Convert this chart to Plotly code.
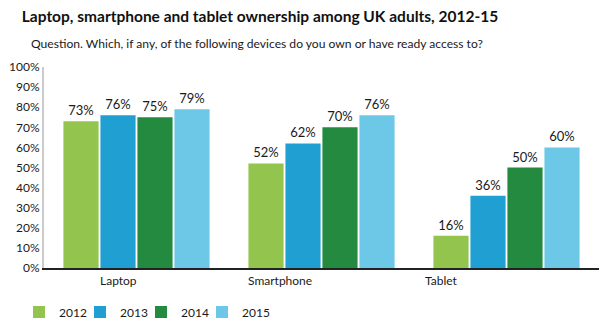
import plotly.graph_objects as go

# Device ownership by year (% of UK adults)
devices = ["Laptop", "Smartphone", "Tablet"]
years = ["2012", "2013", "2014", "2015"]
own_2012 = [73, 52, 16]
own_2013 = [76, 62, 36]
own_2014 = [75, 70, 50]
own_2015 = [79, 76, 60]

series = [own_2012, own_2013, own_2014, own_2015]
colors = ["#93C44E", "#209FD3", "#238A40", "#6CC8E6"]
label_shift = [-18, -42, -65]

FONT = "Lato"
TXT = "#1a1a1a"

fig = go.Figure()
for yr, vals, col in zip(years, series, colors):
    fig.add_trace(go.Bar(
        x=devices, y=vals, name=yr,
        marker=dict(color=col, line=dict(width=0)),
        text=[f"{v}%" for v in vals],
        textposition="outside",
        textfont=dict(family=FONT, size=13, color=TXT),
        cliponaxis=False,
    ))

# Blank, transparent legend entry so the last label keeps room for its text
fig.add_trace(go.Scatter(
    x=[devices[0]], y=[None], name="\u00a0", mode="markers",
    marker=dict(color="rgba(0,0,0,0)", size=1), hoverinfo="skip", showlegend=True,
))

# Category names drawn beneath the axis
for dev, dx in zip(devices, label_shift):
    fig.add_annotation(x=dev, y=0, yref="y", yshift=-12, xshift=dx,
                       text=dev, showarrow=False,
                       font=dict(family=FONT, size=12, color=TXT))

fig.update_layout(
    width=600, height=327,
    margin=dict(l=44, r=1, t=67, b=59),
    paper_bgcolor="white", plot_bgcolor="white",
    barmode="group", bargap=0.2, bargroupgap=0.05,
    font=dict(family=FONT, color=TXT),
    title=dict(
        text="<b>Laptop, smartphone and tablet ownership among UK adults, 2012-15</b>",
        x=260 / 600, xanchor="center", y=1 - 17 / 327, yanchor="middle",
        font=dict(family=FONT, size=15.5, color="#111"),
    ),
    legend=dict(
        orientation="h", xref="container", yref="container",
        x=19 / 600, y=1 - 312 / 327, xanchor="left", yanchor="middle",
        entrywidth=16, entrywidthmode="pixels",
        font=dict(family=FONT, size=12, color=TXT),
        itemclick=False, itemdoubleclick=False,
    ),
    showlegend=True,
)
fig.add_annotation(
    text="Question. Which, if any, of the following devices do you own or have ready access to?",
    xref="paper", yref="paper", x=(257 - 44) / 555, y=(268 - 43) / 201,
    xanchor="center", yanchor="middle", showarrow=False,
    font=dict(family=FONT, size=12.1, color=TXT),
)
fig.update_xaxes(showticklabels=False, showline=True, linecolor="#222", linewidth=1.5,
                 ticks="", showgrid=False, zeroline=False)
fig.update_yaxes(range=[0, 100], dtick=10, ticksuffix="%", showgrid=False, zeroline=False,
                 showline=True, linecolor="#cccccc", linewidth=2, ticks="",
                 tickfont=dict(family=FONT, size=12, color=TXT))

fig.write_html("out.html")
